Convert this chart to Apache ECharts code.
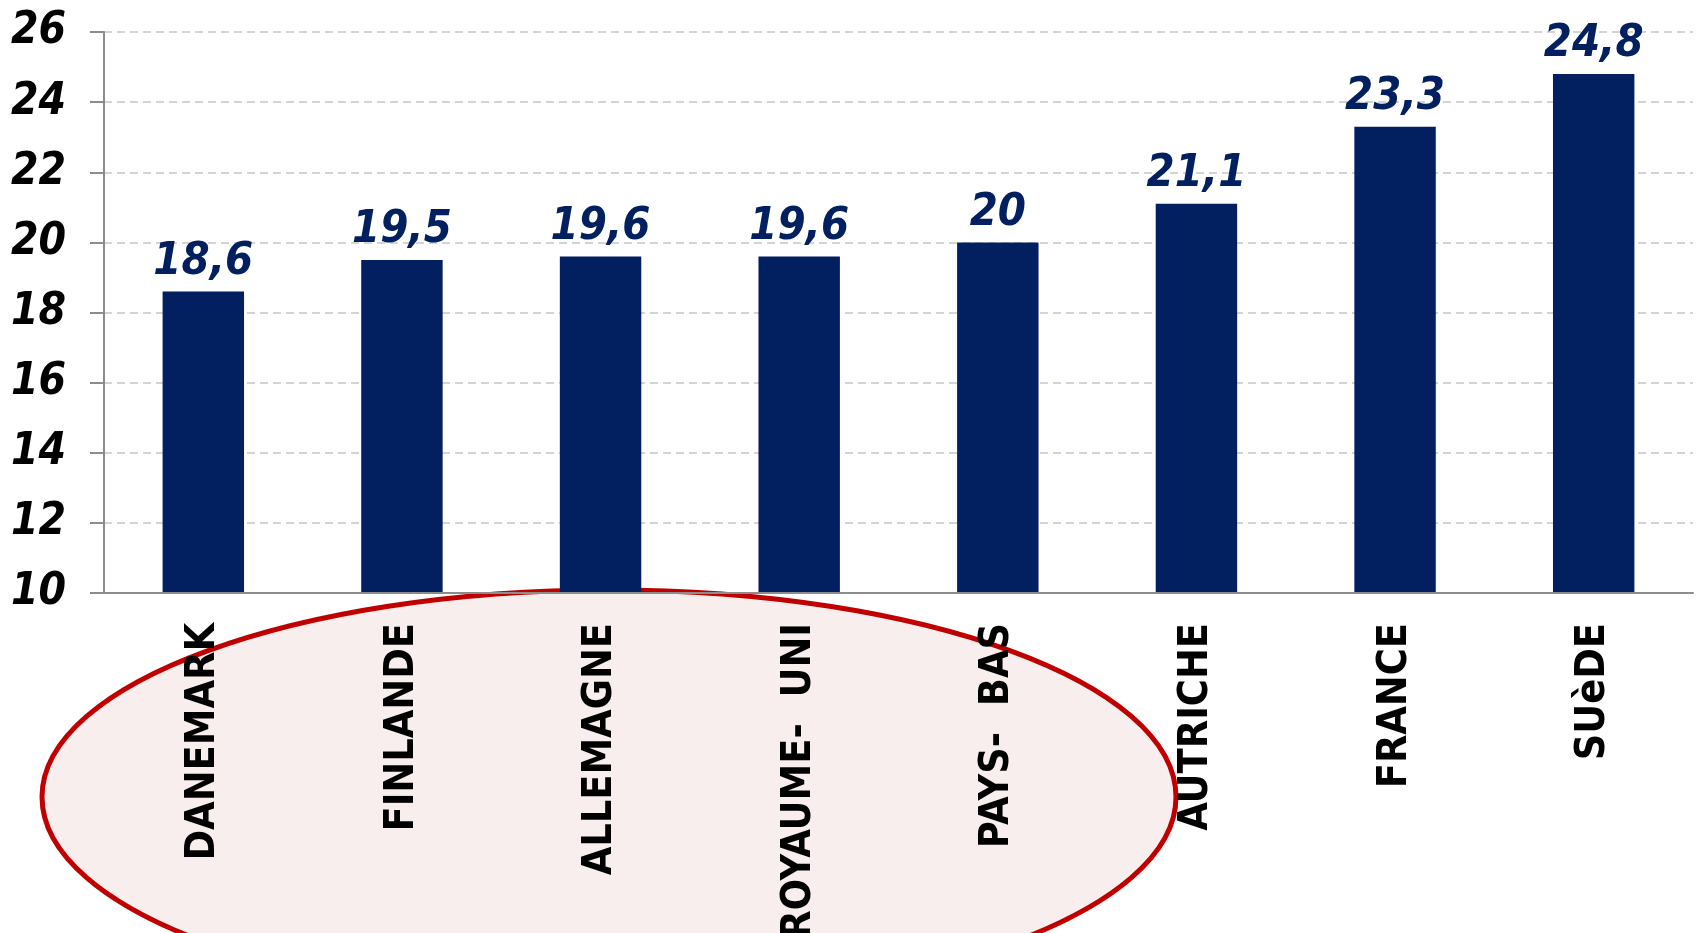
<!DOCTYPE html>
<html>
<head>
<meta charset="utf-8">
<script src="https://cdn.jsdelivr.net/npm/echarts@6/dist/echarts.min.js"></script>
<style>
  html, body { margin: 0; padding: 0; background: #fff; }
  #myChart { width: 1698px; height: 933px; }
</style>
</head>
<body>
<div id="myChart"></div>
<script>
  // countries along the x axis
  const countries = ['DANEMARK', 'FINLANDE', 'ALLEMAGNE', 'ROYAUME-  UNI', 'PAYS-  BAS', 'AUTRICHE', 'FRANCE', 'SUèDE']
  // one value per country
  const values = [18.6, 19.5, 19.6, 19.6, 20, 21.1, 23.3, 24.8]
  const yMin = 10
  const yMax = 26
  const yStep = 2

  const font = '"DejaVu Sans Condensed", "DejaVu Sans", sans-serif'
  const myChart = echarts.init(document.getElementById('myChart'))

  myChart.setOption({
    animation: false,
    backgroundColor: '#ffffff',
    grid: {
      left: 104,
      right: 5,
      top: 32,
      bottom: 340,
      outerBoundsMode: 'none'
    },
    // red ellipse around the first five countries
    graphic: [
      {
        type: 'ellipse',
        z: 0,
        silent: true,
        shape: { cx: 609, cy: 797, rx: 567, ry: 207 },
        style: { fill: '#f9eeee', stroke: '#c00000', lineWidth: 5 }
      }
    ],
    xAxis: {
      type: 'category',
      data: countries,
      z: 5,
      axisLine: { lineStyle: { color: '#8c8c8c', width: 2 } },
      axisTick: { length: 13, lineStyle: { color: '#8c8c8c', width: 2 } },
      axisLabel: {
        rotate: 90,
        margin: 30,
        interval: 0,
        color: '#000000',
        fontFamily: font,
        fontWeight: 'bold',
        fontSize: 41
      }
    },
    yAxis: {
      type: 'value',
      min: yMin,
      max: yMax,
      interval: yStep,
      axisLine: { show: true, lineStyle: { color: '#8c8c8c', width: 2 } },
      axisTick: { show: true, length: 14, lineStyle: { color: '#8c8c8c', width: 2 } },
      axisLabel: {
        margin: 38,
        color: '#000000',
        fontFamily: font,
        fontWeight: 'bold',
        fontStyle: 'italic',
        fontSize: 44
      },
      splitLine: { lineStyle: { color: '#d4d4d4', type: [8, 5], width: 2 } }
    },
    series: [
      {
        type: 'bar',
        data: values,
        barWidth: '41%',
        z: 3,
        itemStyle: { color: '#022060' },
        label: {
          show: true,
          position: 'top',
          distance: 7,
          color: '#022060',
          fontFamily: font,
          fontWeight: 'bold',
          fontStyle: 'italic',
          fontSize: 45,
          formatter: p => String(p.value).replace('.', ',')
        }
      }
    ]
  })
</script>
</body>
</html>
